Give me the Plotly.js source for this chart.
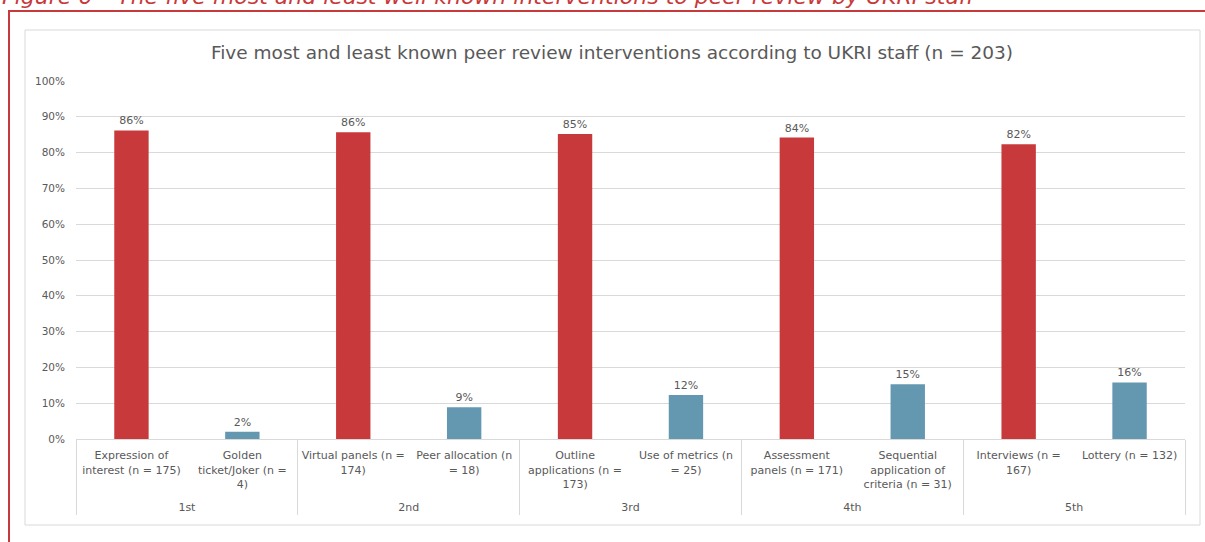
<!DOCTYPE html>
<html>
<head>
<meta charset="utf-8">
<script src="https://cdn.plot.ly/plotly-3.0.1.min.js"></script>
<style>
  html, body { margin: 0; padding: 0; background: #ffffff; }
  #chart { width: 1205px; height: 542px; }
</style>
</head>
<body>
<div id="chart"></div>
<script>
// ---- Data ----
const ranks = ['1st', '2nd', '3rd', '4th', '5th'];
const mostKnownLabels = [
  'Expression of<br>interest (n = 175)',
  'Virtual panels (n =<br>174)',
  'Outline<br>applications (n =<br>173)',
  'Assessment<br>panels (n = 171)',
  'Interviews (n =<br>167)'
];
const mostKnownValues = [0.862, 0.857, 0.852, 0.842, 0.823];
const leastKnownLabels = [
  'Golden<br>ticket/Joker (n =<br>4)',
  'Peer allocation (n<br>= 18)',
  'Use of metrics (n<br>= 25)',
  'Sequential<br>application of<br>criteria (n = 31)',
  'Lottery (n = 132)'
];
const leastKnownValues = [0.020, 0.089, 0.123, 0.153, 0.158];

const titleText = 'Five most and least known peer review interventions according to UKRI staff (n = 203)';
const captionText = 'Figure 6 \u2013 The five most and least well known interventions to peer review by UKRI staff';

// ---- Styling ----
const RED = '#C8393B';
const BLUE = '#6497B0';
const TEXT = '#595959';
const GRID = '#D9D9D9';
const FONT = 'DejaVu Sans, Liberation Sans, sans-serif';

// Interleave the two series into one multicategory trace
// (a trailing blank line under each label leaves room above the rank row)
const PAD = '<br>\u00a0';
const xGroups = [], xLabels = [], yVals = [], colors = [];
ranks.forEach((r, i) => {
  xGroups.push(r); xLabels.push(mostKnownLabels[i] + PAD); yVals.push(mostKnownValues[i]); colors.push(RED);
  xGroups.push(r); xLabels.push(leastKnownLabels[i] + PAD); yVals.push(leastKnownValues[i]); colors.push(BLUE);
});

// Page layout geometry (pixels)
const W = 1205, H = 542;
const M = { l: 76, r: 20, t: 81, b: 103 };
const PW = W - M.l - M.r, PH = H - M.t - M.b;
const px = x => (x - M.l) / PW;
const py = y => (H - M.b - y) / PH;

const trace = {
  type: 'bar',
  x: [xGroups, xLabels],
  y: yVals,
  width: 0.31,
  marker: { color: colors },
  text: yVals.map(v => Math.round(v * 100) + '%'),
  textposition: 'outside',
  cliponaxis: false,
  textfont: { family: FONT, size: 11, color: TEXT },
  hoverinfo: 'skip'
};

const layout = {
  width: W, height: H,
  margin: M,
  paper_bgcolor: '#ffffff',
  plot_bgcolor: '#ffffff',
  showlegend: false,
  font: { family: FONT, size: 11, color: TEXT },
  title: {
    text: titleText,
    font: { family: FONT, size: 18.5, color: TEXT },
    x: 612 / W, xanchor: 'center', xref: 'container',
    y: 1 - 53 / H, yanchor: 'middle', yref: 'container'
  },
  xaxis: {
    type: 'multicategory',
    tickangle: 0,
    showline: true, linecolor: GRID, linewidth: 1,
    showgrid: false,
    ticks: '',
    ticklabelstandoff: 6,
    showdividers: true, dividercolor: GRID, dividerwidth: 1,
    tickfont: { family: FONT, size: 11, color: TEXT }
  },
  yaxis: {
    range: [0, 1],
    dtick: 0.1,
    tickformat: '.0%',
    showgrid: true, gridcolor: GRID, gridwidth: 1,
    zeroline: false,
    showline: false,
    ticks: '',
    ticklabelstandoff: 10,
    tickfont: { family: FONT, size: 10.5, color: TEXT }
  },
  shapes: [
    // light grey chart frame
    { type: 'rect', xref: 'paper', yref: 'paper',
      x0: px(25), x1: px(1200), y0: py(525), y1: py(30),
      line: { color: GRID, width: 1 }, fillcolor: 'rgba(0,0,0,0)', layer: 'below' },
    // red figure frame (left and top)
    { type: 'line', xref: 'paper', yref: 'paper',
      x0: px(9), x1: px(9), y0: py(545), y1: py(11),
      line: { color: RED, width: 2 } },
    { type: 'line', xref: 'paper', yref: 'paper',
      x0: px(8), x1: px(1210), y0: py(11), y1: py(11),
      line: { color: RED, width: 2 } }
  ],
  annotations: [
    { text: '<i>' + captionText + '</i>', xref: 'paper', yref: 'paper',
      x: px(0), xanchor: 'left', y: py(-3), yanchor: 'middle',
      showarrow: false, font: { family: FONT, size: 22, color: RED } }
  ]
};

Plotly.newPlot('chart', [trace], layout, { staticPlot: true, displayModeBar: false });
</script>
</body>
</html>
